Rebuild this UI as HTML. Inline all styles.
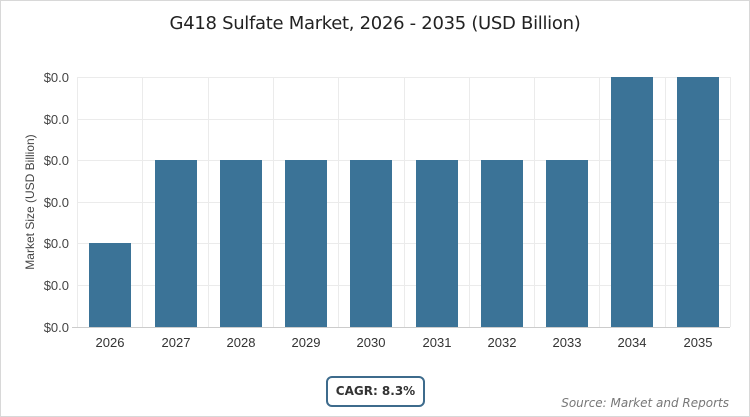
<!DOCTYPE html>
<html><head><style>
body{margin:0;background:#fff;}
.wrap{position:relative;width:748px;height:415px;border:1px solid #d8d8d8;background:#fff;font-family:"Liberation Sans",sans-serif;}
.title{position:absolute;top:12px;left:0;width:748px;text-align:center;font-size:18px;color:#222;font-family:"DejaVu Sans","Liberation Sans",sans-serif;letter-spacing:-0.3px;}
.cagr{position:absolute;left:325px;top:375px;width:95px;height:27px;border:2px solid #3d6b8c;border-radius:6px;font-family:"DejaVu Sans",sans-serif;font-weight:bold;font-size:12px;color:#333;text-align:center;line-height:27px;}
.src{position:absolute;right:20px;top:395px;font-style:italic;font-size:12px;color:#777;font-family:"DejaVu Sans",sans-serif;}
</style></head><body><div class="wrap">
<div class="title">G418 Sulfate Market, 2026 - 2035 (USD Billion)</div>
<svg width="750" height="417" style="position:absolute;left:-1px;top:-1px">
<g stroke="#ebebeb" stroke-width="1">
<line x1="77" x2="730" y1="77.5" y2="77.5"/><line x1="77" x2="730" y1="119.5" y2="119.5"/><line x1="77" x2="730" y1="160.5" y2="160.5"/><line x1="77" x2="730" y1="202.5" y2="202.5"/><line x1="77" x2="730" y1="243.5" y2="243.5"/><line x1="77" x2="730" y1="285.5" y2="285.5"/>
<line x1="77.5" x2="77.5" y1="77" y2="327"/><line x1="142.5" x2="142.5" y1="77" y2="327"/><line x1="208.5" x2="208.5" y1="77" y2="327"/><line x1="273.5" x2="273.5" y1="77" y2="327"/><line x1="338.5" x2="338.5" y1="77" y2="327"/><line x1="404.5" x2="404.5" y1="77" y2="327"/><line x1="469.5" x2="469.5" y1="77" y2="327"/><line x1="534.5" x2="534.5" y1="77" y2="327"/><line x1="599.5" x2="599.5" y1="77" y2="327"/><line x1="665.5" x2="665.5" y1="77" y2="327"/><line x1="730.5" x2="730.5" y1="77" y2="327"/>
</g>
<line x1="72" x2="730" y1="327.5" y2="327.5" stroke="#ccc"/>
<g fill="#3b7397">
<rect x="89" y="243" width="42" height="84"/>
<rect x="155" y="160" width="42" height="167"/>
<rect x="220" y="160" width="42" height="167"/>
<rect x="285" y="160" width="42" height="167"/>
<rect x="350" y="160" width="42" height="167"/>
<rect x="416" y="160" width="42" height="167"/>
<rect x="481" y="160" width="42" height="167"/>
<rect x="546" y="160" width="42" height="167"/>
<rect x="611" y="77" width="42" height="250"/>
<rect x="677" y="77" width="42" height="250"/>
</g>
<g font-family="Liberation Sans" font-size="13" fill="#444" text-anchor="end">
<text x="69" y="82">$0.0</text><text x="69" y="124">$0.0</text><text x="69" y="165">$0.0</text><text x="69" y="207">$0.0</text><text x="69" y="248">$0.0</text><text x="69" y="290">$0.0</text><text x="69" y="332">$0.0</text>
</g>
<g font-family="Liberation Sans" font-size="13" fill="#333" text-anchor="middle">
<text x="110" y="347">2026</text><text x="176" y="347">2027</text><text x="241" y="347">2028</text><text x="306" y="347">2029</text><text x="371" y="347">2030</text><text x="437" y="347">2031</text><text x="502" y="347">2032</text><text x="567" y="347">2033</text><text x="632" y="347">2034</text><text x="698" y="347">2035</text>
</g>
<text transform="translate(34,202) rotate(-90)" font-family="Liberation Sans" font-size="12" fill="#444" text-anchor="middle">Market Size (USD Billion)</text>
</svg>
<div class="cagr">CAGR: 8.3%</div>
<div class="src">Source: Market and Reports</div>
</div></body></html>
